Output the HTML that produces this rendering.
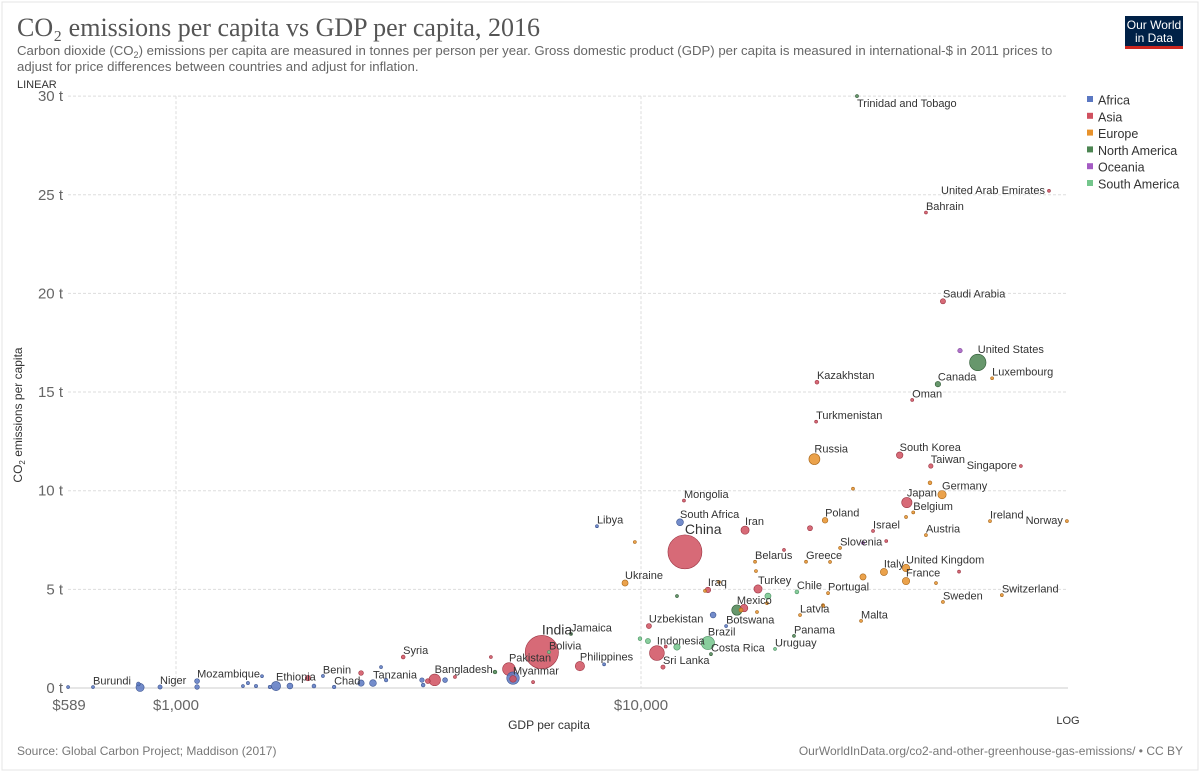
<!DOCTYPE html>
<html><head><meta charset="utf-8">
<style>
html,body{margin:0;padding:0;background:#fff;}
svg{display:block;font-family:"Liberation Sans",sans-serif;}
</style></head>
<body>
<svg id="chart" width="1200" height="772" viewBox="0 0 1200 772" xmlns="http://www.w3.org/2000/svg">
<rect x="2" y="2" width="1196" height="768" fill="#fff" stroke="#e4e4e4" stroke-width="1"/>
<text x="17" y="36" font-family="Liberation Serif, serif" font-size="26" fill="#555">CO₂ emissions per capita vs GDP per capita, 2016</text>
<text x="17" y="55" font-size="13.2" fill="#666">Carbon dioxide (CO<tspan font-size="9" dy="3">2</tspan><tspan dy="-3">) emissions per capita are measured in tonnes per person per year. Gross domestic product (GDP) per capita is measured in international-$ in 2011 prices to</tspan></text>
<text x="17" y="71" font-size="13.2" fill="#666">adjust for price differences between countries and adjust for inflation.</text>
<text x="17" y="88" font-size="11" fill="#333">LINEAR</text>
<g>
<rect x="1125" y="16" width="58" height="33" fill="#002147"/>
<rect x="1125" y="46" width="58" height="3" fill="#ce261e"/>
<text x="1154" y="29" font-size="12" fill="#fff" text-anchor="middle">Our World</text>
<text x="1154" y="42" font-size="12" fill="#fff" text-anchor="middle">in Data</text>
</g>
<g id="grid"></g>
<g id="axes"></g>
<g id="marks"></g>
<g id="labels"></g>
<g id="legend"></g>
<text x="22" y="415" font-size="12" fill="#333" text-anchor="middle" transform="rotate(-90 22 415)">CO<tspan font-size="8" dy="3">2</tspan><tspan dy="-3"> emissions per capita</tspan></text>
<text x="549" y="729" font-size="12" fill="#333" text-anchor="middle">GDP per capita</text>
<text x="1068" y="724" font-size="11" fill="#333" text-anchor="middle">LOG</text>
<text x="17" y="755" font-size="12" fill="#777">Source: Global Carbon Project; Maddison (2017)</text>
<text x="1183" y="755" font-size="12" fill="#777" text-anchor="end">OurWorldInData.org/co2-and-other-greenhouse-gas-emissions/ • CC BY</text>
</svg>
<script>
const countries = ["Trinidad and Tobago","United Arab Emirates","Bahrain","Saudi Arabia","United States","Canada","Luxembourg","Oman","Kazakhstan","Turkmenistan","Russia","South Korea","Taiwan","Singapore","Germany","Japan","Belgium","Mongolia","South Africa","Iran","Libya","Poland","Israel","Austria","Ireland","Norway","China","Slovenia","Belarus","Greece","Italy","United Kingdom","France","Ukraine","Iraq","Turkey","Chile","Portugal","Sweden","Switzerland","Mexico","Latvia","Botswana","Malta","Panama","Uzbekistan","Uruguay","Brazil","Costa Rica","Indonesia","Sri Lanka","India","Jamaica","Bolivia","Pakistan","Myanmar","Philippines","Bangladesh","Syria","Tanzania","Benin","Chad","Ethiopia","Mozambique","Niger","Burundi",
"Nigeria","DR Congo","Central African Republic","Malawi","Madagascar","Togo","Rwanda","Guinea","Sierra Leone","Somalia","Uganda","Mali","Kenya","Djibouti","Senegal","Cameroon","Zambia","Ghana","Namibia","Algeria",
"Afghanistan","Yemen","Nepal","Laos","Timor","Bhutan","Lebanon","Thailand","Malaysia","Brunei","Kuwait","Cyprus",
"Czechia","Netherlands","Finland","Bosnia","Slovakia","Croatia","Bulgaria","Serbia","Romania","Lithuania","Spain","Estonia","Denmark","Montenegro","Macedonia",
"Dominican Republic","Guatemala","Argentina","Ecuador","Peru","Colombia","Australia","New Zealand"];
const gdpPerCapita = [29140,75400,41000,44600,53000,43500,56900,38300,23900,23800,23600,36000,42000,65600,44400,37300,38500,12370,12130,16740,8040,24880,31550,41000,56300,82400,12430,26800,17590,22640,33300,37150,37150,9240,13930,17850,21640,25250,44600,59700,16080,21980,15240,29730,21330,10400,19420,13930,14140,10820,11150,6120,7070,6340,5200,5306,7390,3600,3080,2652,2070,2188,1641,1110,924,663,
5306,837,586,830,1110,1393,1428,1486,1531,1592,1758,1980,2500,2760,2830,3380,3400,3790,8330,14290,
1922,2500,3480,3980,4755,5860,11300,16660,23090,20300,48300,33680,
28570,41830,37150,9700,25500,17670,17760,18660,16410,14720,30020,24630,43090,13730,24630,
11950,4853,18750,9950,10350,11950,48530,30020];
const co2PerCapita = [30.0,25.2,24.1,19.6,16.5,15.4,15.7,14.6,15.5,13.5,11.6,11.8,11.25,11.25,9.8,9.4,8.9,9.5,8.4,8.0,8.2,8.5,7.96,7.75,8.46,8.46,6.9,7.1,6.4,6.4,5.88,6.08,5.42,5.32,4.97,5.02,4.87,4.81,4.36,4.71,3.95,3.7,3.14,3.4,2.64,3.14,1.98,2.28,1.72,1.77,1.06,1.82,2.74,1.82,0.96,0.46,1.11,0.41,1.57,0.25,0.61,0.05,0.1,0.35,0.05,0.05,
0.5,0.03,0.05,0.2,0.05,0.1,0.25,0.1,0.6,0.05,0.1,0.1,0.25,1.06,0.4,0.4,0.15,0.4,1.2,3.7,
0.5,0.76,0.35,0.56,1.57,0.3,2.1,4.05,8.1,7.0,5.9,7.45,
10.1,10.4,8.67,7.4,6.39,5.93,3.85,4.3,3.95,5.37,5.63,4.16,5.32,4.92,4.2,
4.66,0.81,4.66,2.5,2.38,2.08,17.1,7.35];
const populationMillions = [1.4,9.3,1.4,32,323,36,0.6,4.4,18,5.7,144,51,23.5,5.6,82,127,11.3,3,56,80,6.3,38,8.5,8.7,4.7,5.2,1379,2,9.5,10.8,61,66,65,45,37,80,18,10.3,9.9,8.4,128,2,2.2,0.4,4,31,3.4,208,4.9,261,21,1324,2.9,11,193,53,104,163,18,55,11,14.5,102,29,21,10.5,
186,79,5,18,25,8,12,13,7.4,14,41,18,48,1,15,24,17,28,2.5,40,
35,27,28,7,3,0.8,6,68,31,0.4,4,1.2,
10.6,17,5.5,3.5,5.4,4.2,7.1,7,19.7,2.9,46,1.3,5.7,0.6,2.1,
10.6,16.6,44,16.4,31.8,48.7,24,4.7];
const regions = ["North America","Asia","Asia","Asia","North America","North America","Europe","Asia","Asia","Asia","Europe","Asia","Asia","Asia","Europe","Asia","Europe","Asia","Africa","Asia","Africa","Europe","Asia","Europe","Europe","Europe","Asia","Europe","Europe","Europe","Europe","Europe","Europe","Europe","Asia","Asia","South America","Europe","Europe","Europe","North America","Europe","Africa","Europe","North America","Asia","South America","South America","North America","Asia","Asia","Asia","North America","South America","Asia","Asia","Asia","Asia","Asia","Africa","Africa","Africa","Africa","Africa","Africa","Africa",
"Africa","Africa","Africa","Africa","Africa","Africa","Africa","Africa","Africa","Africa","Africa","Africa","Africa","Africa","Africa","Africa","Africa","Africa","Africa","Africa",
"Asia","Asia","Asia","Asia","Asia","Asia","Asia","Asia","Asia","Asia","Asia","Asia",
"Europe","Europe","Europe","Europe","Europe","Europe","Europe","Europe","Europe","Europe","Europe","Europe","Europe","Europe","Europe",
"North America","North America","South America","South America","South America","South America","Oceania","Oceania"];
const labeledCount = 66;
const yTicks = [0,5,10,15,20,25,30];
const yTickLabels = ["0 t","5 t","10 t","15 t","20 t","25 t","30 t"];
const xTicks = [589,1000,10000];
const xTickLabels = ["$589","$1,000","$10,000"];
const legendNames = ["Africa","Asia","Europe","North America","Oceania","South America"];

const colors = {"Africa":"#5b78c2","Asia":"#d0505f","Europe":"#e8922c","North America":"#4c8552","Oceania":"#a45bc3","South America":"#74c68c"};
const strokes = {"Africa":"#3d5590","Asia":"#9c3442","Europe":"#a86618","North America":"#2f5a35","Oceania":"#743d8c","South America":"#4b9162"};
const X0=641, DEC=465, Y0=688, PER=19.73, PL=68, PR=1068;
function xs(g){return X0+DEC*Math.log10(g/10000);}
function ys(c){return Y0-PER*c;}
function rs(p){return Math.max(1.5,17*Math.sqrt(p/1379));}
const NS="http://www.w3.org/2000/svg";
function mk(tag,attrs,parent){const e=document.createElementNS(NS,tag);for(const k in attrs)e.setAttribute(k,attrs[k]);parent.appendChild(e);return e;}
const grid=document.getElementById('grid'),axes=document.getElementById('axes'),marks=document.getElementById('marks'),labels=document.getElementById('labels'),legend=document.getElementById('legend');
yTicks.forEach((t,i)=>{
  const y=ys(t);
  const l=mk('line',{x1:PL,x2:PR,y1:y,y2:y,stroke:t===0?'#ccc':'#ddd','stroke-dasharray':t===0?'none':'3,2'},grid);
  
  
  const tx=mk('text',{x:63,y:y+5,'font-size':15,fill:'#666','text-anchor':'end'},axes);
  tx.textContent=yTickLabels[i];
  
  
});
xTicks.forEach((t,i)=>{
  const x=xs(t);
  if(i>0){const l=mk('line',{x1:x,x2:x,y1:ys(30),y2:Y0,stroke:'#ddd','stroke-dasharray':'3,2'},grid);
  
  }
  const tx=mk('text',{x:x,y:710,'font-size':15,fill:'#666','text-anchor':'middle'},axes);
  tx.textContent=xTickLabels[i];
  
  
});
const order=countries.map((c,i)=>i).sort((a,b)=>populationMillions[b]-populationMillions[a]);
order.forEach(i=>{
  const reg=regions[i];
  const c=mk('circle',{cx:xs(gdpPerCapita[i]),cy:ys(co2PerCapita[i]),r:rs(populationMillions[i]),fill:colors[reg],'fill-opacity':0.85,stroke:strokes[reg],'stroke-width':0.6},marks);
  
  
});
const endAnchor=["United Arab Emirates","Singapore","Norway"];
for(let i=0;i<labeledCount;i++){
  const name=countries[i];
  const cx=xs(gdpPerCapita[i]),cy=ys(co2PerCapita[i]),r=rs(populationMillions[i]);
  const big=(name==="China"||name==="India");
  let x=cx,y=cy-r-1,anchor='start';
  if(name==="Trinidad and Tobago"){y=cy+11;}
  if(endAnchor.includes(name)){x=cx-4;y=cy+3;anchor='end';}
  const t=mk('text',{x:x,y:y,'font-size':big?14:11,fill:'#333','text-anchor':anchor},labels);
  t.textContent=name;
  
  
}
legendNames.forEach((n,i)=>{
  const y=100+i*16.8;
  const g=mk('g',{},legend);
  
  
  mk('rect',{x:1087,y:y-4,width:6,height:6,fill:colors[n]},g);
  const t=mk('text',{x:1098,y:y+4.5,'font-size':12.5,fill:'#333'},g);
  t.textContent=n;
});
</script>
</body></html>
